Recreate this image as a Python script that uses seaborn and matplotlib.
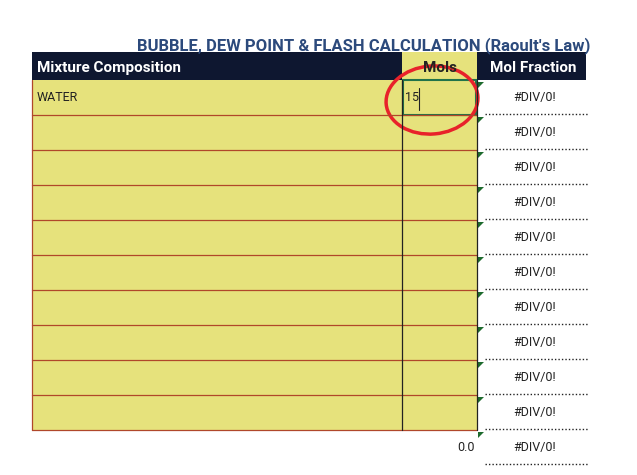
import matplotlib.pyplot as plt
import matplotlib.patches as patches
import seaborn as sns

# sheet contents
title = "BUBBLE, DEW POINT & FLASH CALCULATION (Raoult's Law)"
headers = ["Mixture Composition", "Mols", "Mol Fraction"]
components = ["WATER", "", "", "", "", "", "", "", "", ""]
mols = ["15", "", "", "", "", "", "", "", "", ""]
fractions = ["#DIV/0!"] * 10
total_mols = "0.0"
total_fraction = "#DIV/0!"

sns.set_style("white")
plt.rcParams['font.family'] = ['Roboto', 'DejaVu Sans']

fig = plt.figure(figsize=(6.37, 4.75), dpi=100)
ax = fig.add_axes([0, 0, 1, 1])
ax.set_xlim(0, 637)
ax.set_ylim(475, 0)
ax.axis('off')

x0, x1, x2, x3 = 32, 402, 477, 586
top, hh, rh = 52, 28, 35
yellow = '#e6e27c'
navy = '#0e1730'
red = '#b0472a'

ax.text(590, 46, title, ha='right', va='center', fontsize=12, fontweight='bold', color='#2c4a7c')

# header
ax.add_patch(patches.Rectangle((x0, top), x3 - x0, hh, color=navy, lw=0))
ax.add_patch(patches.Rectangle((x1, top), x2 - x1, hh, color=yellow, lw=0))
ax.text(x0 + 5, top + hh / 2 + 2, headers[0], color='white', fontsize=11, fontweight='bold', va='center')
ax.text(x2 - 20, top + hh / 2 + 2, headers[1], color='#222222', fontsize=11, fontweight='bold', va='center', ha='right')
ax.text((x2 + x3) / 2 + 2, top + hh / 2 + 2, headers[2], color='white', fontsize=11, fontweight='bold', va='center', ha='center')

y = top + hh
for i, (c, m, f) in enumerate(zip(components, mols, fractions)):
    ax.add_patch(patches.Rectangle((x0, y), x2 - x0, rh, color=yellow, lw=0))
    ax.plot([x0, x2], [y + rh, y + rh], color=red, lw=0.9)
    ax.plot([x0, x0], [y, y + rh], color=red, lw=0.9)
    ax.plot([x1, x1], [y, y + rh], color='#222222', lw=0.9)
    ax.plot([x2, x2], [y, y + rh], color='#222222', lw=0.9)
    ax.text(x0 + 5, y + rh / 2, c, fontsize=9, va='center', color='#222222')
    ax.text(x1 + 3, y + rh / 2, m, fontsize=9, va='center', color='#222222')
    ax.text(x3 - 30, y + rh / 2, f, fontsize=9, va='center', ha='right', color='#222222')
    ax.plot([485, 588], [y + rh - 1, y + rh - 1], color='#222222', lw=1, ls=(0, (1, 1.5)))
    ax.add_patch(patches.Polygon([[x2 + 1, y + 2], [x2 + 7, y + 2], [x2 + 1, y + 8]], color='#1e6b2e', lw=0))
    y += rh

# totals row
ax.add_patch(patches.Polygon([[x2 + 1, y + 2], [x2 + 7, y + 2], [x2 + 1, y + 8]], color='#1e6b2e', lw=0))
ax.text(x2 - 2, y + rh / 2, total_mols, fontsize=9, va='center', ha='right', color='#222222')
ax.text(x3 - 30, y + rh / 2, total_fraction, fontsize=9, va='center', ha='right', color='#222222')
ax.plot([485, 588], [y + rh - 1, y + rh - 1], color='#222222', lw=1, ls=(0, (1, 1.5)))

# selected cell and cursor
ax.add_patch(patches.Rectangle((x1 + 1, top + hh), x2 - x1 - 2, rh, fill=False, ec='#21734a', lw=1.5))
ax.plot([419, 419], [top + hh + 8, top + hh + rh - 5], color='#222222', lw=0.8)

# hand drawn circle
ax.add_patch(patches.Ellipse((432, 100), 92, 68, angle=-5, fill=False, ec='#e8222a', lw=2.5))

fig.savefig('out.png', dpi=100)
